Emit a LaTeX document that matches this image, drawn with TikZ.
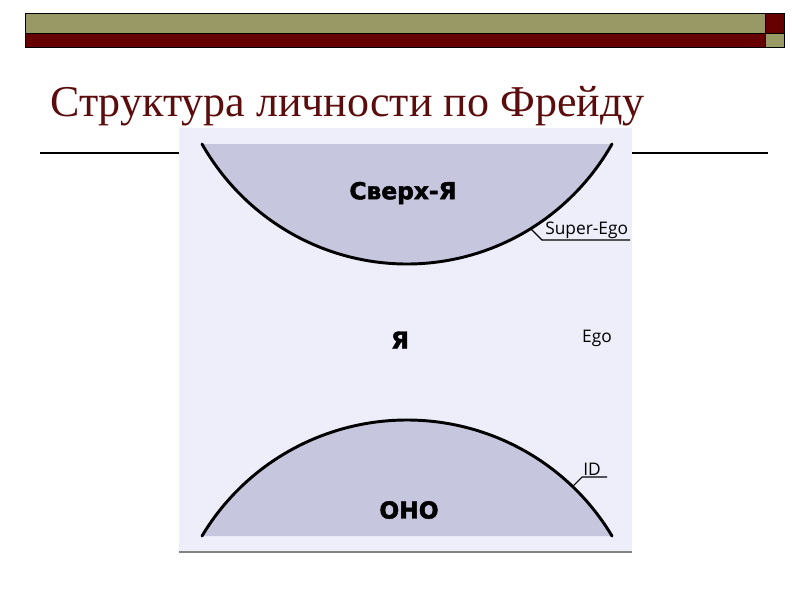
\documentclass[tikz,border=0pt]{standalone}
\usepackage{fontspec}
\setmainfont{Liberation Serif}
\newfontfamily\thinfont{Open Sans}
\newfontfamily\heavyfont{DejaVu Sans Bold}[FakeBold=2]
\usepackage{xcolor}
\definecolor{olivebar}{RGB}{153,153,102}
\definecolor{wine}{RGB}{102,0,0}
\definecolor{titlered}{RGB}{92,12,12}
\definecolor{panelbg}{RGB}{238,238,250}
\definecolor{zonefill}{RGB}{198,198,222}

\begin{document}
\begin{tikzpicture}[x=0.75pt,y=0.75pt,yscale=-1,xscale=1,
    bar/.style={draw=black,line width=0.75pt},
    zone/.style={fill=zonefill,draw=none},
    rim/.style={draw=black,line width=2.2pt,line cap=round},
    leader/.style={draw=black,line width=0.8pt},
    heavy/.style={inner sep=0.75pt,font=\heavyfont\fontsize{17.5}{20}\selectfont},
    thin/.style={inner sep=0.75pt,font=\thinfont\fontsize{13}{15}\selectfont}]
    \useasboundingbox (0,0) rectangle (800,600);
    \fill[white] (0,0) rectangle (800,600);

    %Shape: Top bars
    \filldraw [bar,fill=olivebar] (25,13) rectangle (765,33);
    \filldraw [bar,fill=wine] (25,33) rectangle (765,47);
    \filldraw [bar,fill=wine] (765,13) rectangle (784,33);
    \filldraw [bar,fill=olivebar] (765,33) rectangle (784,47);

    % Text Node
    \node (title) [anchor=base west,inner sep=0pt,text=titlered,font=\fontsize{33}{40}\selectfont] at (50,116) {Структура личности по Фрейду};

    %Straight Lines: rule under the title
    \draw [line width=0.8pt] (40,153) -- (768,153);

    %Shape: Rectangle (picture panel)
    \fill [panelbg] (179,128) rectangle (632,552);
    \draw [color={rgb, 255:red, 130; green, 130; blue, 130 },line width=1pt] (179,552) -- (632,552);

    %Shape: Bowl (Super-Ego)
    \path [zone] (202,144) .. controls (244,218) and (322,264) .. (407,264) .. controls (492,264) and (570,218) .. (612,144) -- cycle;
    \draw [rim] (202,144) .. controls (244,218) and (322,264) .. (407,264) .. controls (492,264) and (570,218) .. (612,144);
    %Shape: Dome (ID)
    \path [zone] (202,536) .. controls (245,464) and (323,420) .. (407,420) .. controls (491,420) and (569,464) .. (612,536) -- cycle;
    \draw [rim] (202,536) .. controls (245,464) and (323,420) .. (407,420) .. controls (491,420) and (569,464) .. (612,536);

    % Text Node
    \node (sverkh) [heavy] at (403,193) {Сверх-Я};
    % Text Node
    \node (ya) [heavy] at (400,340) {Я};
    % Text Node
    \node (ono) [heavy] at (409,510) {ОНО};

    % Text Node
    \node (superego) [thin,anchor=south west] at (544,240) {Super-Ego};
    \coordinate (seTip) at (530,228);
    \draw [leader] (seTip) -- (542,240) -- (630,240);
    % Text Node
    \node (ego) [thin] at (597,338) {Ego};
    % Text Node
    \node (id) [thin,anchor=south west] at (582,477) {ID};
    \coordinate (idTip) at (573,486);
    \draw [leader] (idTip) -- (582,477) -- (607,477);

\end{tikzpicture}
\end{document}
